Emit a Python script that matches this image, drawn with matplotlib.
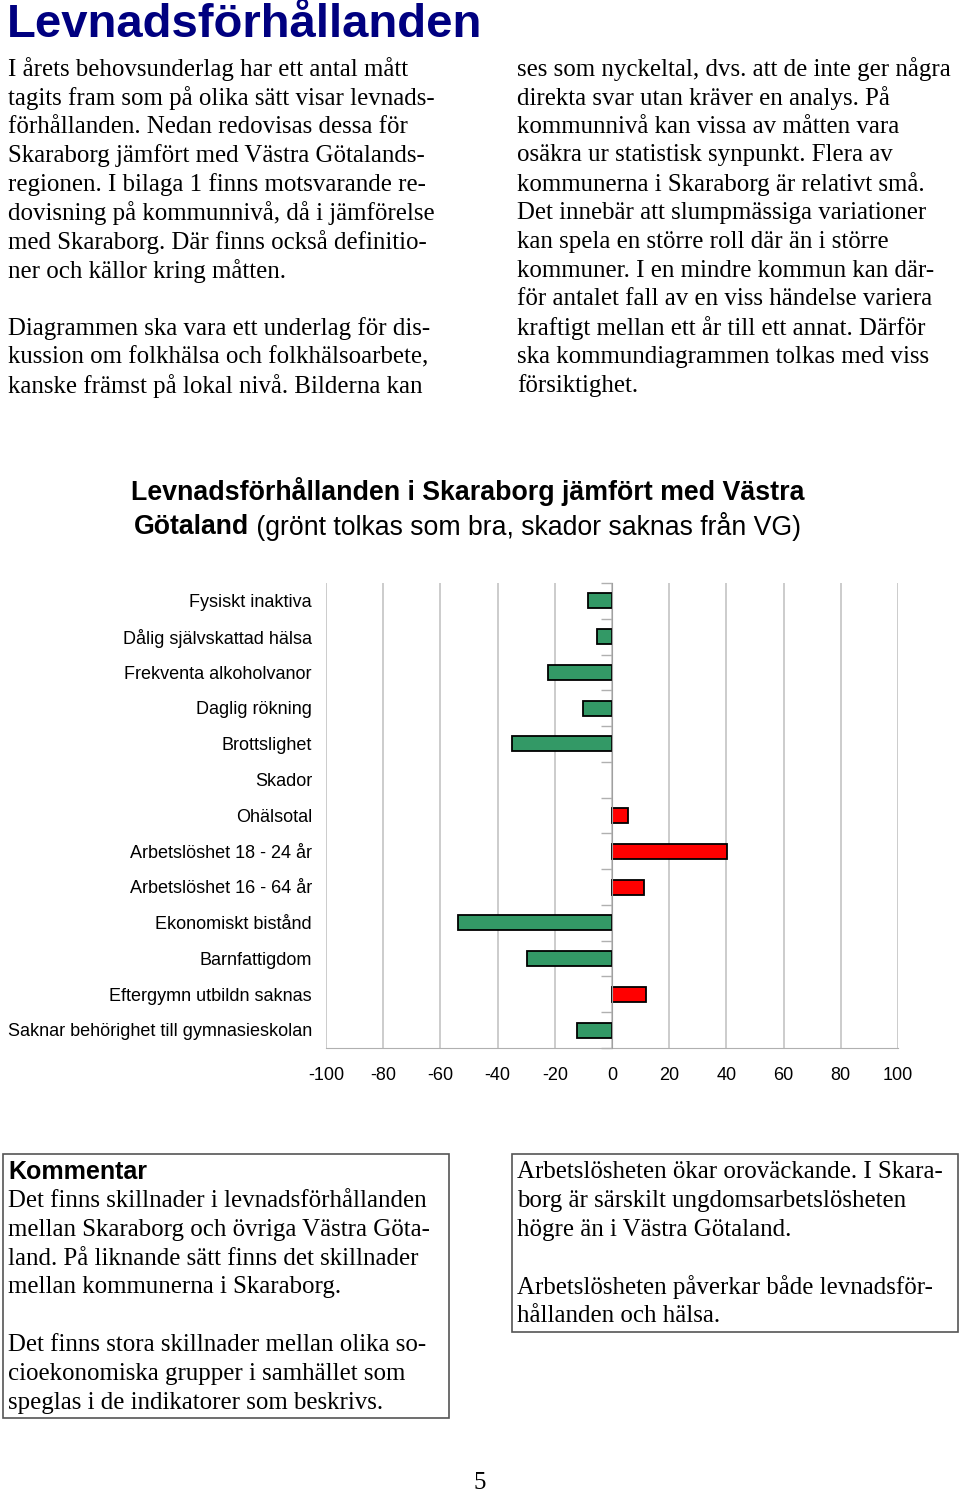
import matplotlib
matplotlib.use("Agg")
import matplotlib.pyplot as plt
import matplotlib.transforms as mtransforms
import numpy as np

# data (difference in % vs Västra Götaland)
categories = ["Fysiskt inaktiva", "Dålig självskattad hälsa", "Frekventa alkoholvanor",
              "Daglig rökning", "Brottslighet", "Skador", "Ohälsotal",
              "Arbetslöshet 18 - 24 år", "Arbetslöshet 16 - 64 år", "Ekonomiskt bistånd",
              "Barnfattigdom", "Eftergymn utbildn saknas",
              "Saknar behörighet till gymnasieskolan"]
values = [-8.4, -5.2, -22.4, -10.1, -35.0, 0.0, 5.6, 40.2, 11.2, -53.8, -29.7, 11.9, -12.2]
xticks = [-100, -80, -60, -40, -20, 0, 20, 40, 60, 80, 100]

left_text = ["I årets behovsunderlag har ett antal mått",
             "tagits fram som på olika sätt visar levnads-",
             "förhållanden. Nedan redovisas dessa för",
             "Skaraborg jämfört med Västra Götalands-",
             "regionen. I bilaga 1 finns motsvarande re-",
             "dovisning på kommunnivå, då i jämförelse",
             "med Skaraborg. Där finns också definitio-",
             "ner och källor kring måtten.",
             "",
             "Diagrammen ska vara ett underlag för dis-",
             "kussion om folkhälsa och folkhälsoarbete,",
             "kanske främst på lokal nivå. Bilderna kan"]
right_text = ["ses som nyckeltal, dvs. att de inte ger några",
              "direkta svar utan kräver en analys. På",
              "kommunnivå kan vissa av måtten vara",
              "osäkra ur statistisk synpunkt. Flera av",
              "kommunerna i Skaraborg är relativt små.",
              "Det innebär att slumpmässiga variationer",
              "kan spela en större roll där än i större",
              "kommuner. I en mindre kommun kan där-",
              "för antalet fall av en viss händelse variera",
              "kraftigt mellan ett år till ett annat. Därför",
              "ska kommundiagrammen tolkas med viss",
              "försiktighet."]
box1_text = ["Det finns skillnader i levnadsförhållanden",
             "mellan Skaraborg och övriga Västra Göta-",
             "land. På liknande sätt finns det skillnader",
             "mellan kommunerna i Skaraborg.",
             "",
             "Det finns stora skillnader mellan olika so-",
             "cioekonomiska grupper i samhället som",
             "speglas i de indikatorer som beskrivs."]
box2_text = ["Arbetslösheten ökar oroväckande. I Skara-",
             "borg är särskilt ungdomsarbetslösheten",
             "högre än i Västra Götaland.",
             "",
             "Arbetslösheten påverkar både levnadsför-",
             "hållanden och hälsa."]

W, H = 960, 1493
fig = plt.figure(figsize=(W / 100, H / 100), dpi=100)

def fx(x):
    return x / W

def fy(y):
    return 1 - y / H

serif = "Liberation Serif"
sans = "Liberation Sans"
body_size = 17.9
lh = 28.8

fig.text(fx(7), fy(37), "Levnadsförhållanden", fontsize=34, fontweight="bold",
         family=sans, color="#000080", va="baseline", ha="left")

for i, line in enumerate(left_text):
    fig.text(fx(8), fy(69 + i * lh), line, fontsize=body_size, family=serif, va="center")
for i, line in enumerate(right_text):
    fig.text(fx(517), fy(69 + i * lh), line, fontsize=body_size, family=serif, va="center")

# chart title, second line mixes bold and normal
fig.text(fx(468), fy(492), "Levnadsförhållanden i Skaraborg jämfört med Västra",
         fontsize=19.3, fontweight="bold", family=sans, ha="center", va="center")
t1 = fig.text(0, fy(527), "Götaland", fontsize=19.2, fontweight="bold", family=sans, va="center")
t2 = fig.text(0, fy(527), " (grönt tolkas som bra, skador saknas från VG)", fontsize=19.2,
              family=sans, va="center")
r = fig.canvas.get_renderer()
w1 = t1.get_window_extent(r).width
w2 = t2.get_window_extent(r).width
x0 = 467 - (w1 + w2) / 2
t1.set_x(fx(x0))
t2.set_x(fx(x0 + w1))

# chart
ax = fig.add_axes([fx(326), fy(1048), fx(898 - 326), (1048 - 583) / H])
y = np.arange(len(categories))
colors = ["#339966" if v <= 0 else "#ff0000" for v in values]
edges = ["black" if v != 0 else "none" for v in values]
ax.barh(y, values, height=0.42, color=colors, edgecolor=edges, linewidth=1.3, zorder=3)
ax.set_xlim(-100, 100)
ax.set_ylim(len(categories) - 0.5, -0.5)
ax.set_xticks(xticks)
ax.set_xticklabels([str(v) for v in xticks], fontsize=13, family=sans)
ax.tick_params(axis="x", length=0, pad=14)
ax.grid(axis="x", color="#c8c8c8", linewidth=1.3, zorder=0)
for s in ["top", "right"]:
    ax.spines[s].set_visible(False)
ax.spines["bottom"].set_color("#b0b0b0")
ax.spines["left"].set_position(("data", 0))
ax.spines["left"].set_color("#a0a0a0")
ax.spines["left"].set_zorder(4)
ax.set_yticks(y)
ax.set_yticklabels([])
ax.tick_params(axis="y", which="major", length=0)
ax.set_yticks(np.arange(len(categories) + 1) - 0.5, minor=True)
ax.tick_params(axis="y", which="minor", length=8, color="#b0b0b0", width=1)
trans = mtransforms.blended_transform_factory(ax.transAxes, ax.transData)
for yi, lab in zip(y, categories):
    ax.text(-14 / 572, yi + 0.05, lab, transform=trans, ha="right", va="center",
            fontsize=13, family=sans)

# comment boxes
fig.patches.append(plt.Rectangle((fx(3), fy(1418)), fx(446), (1418 - 1154) / H,
                                 transform=fig.transFigure, fill=False,
                                 edgecolor="#555555", linewidth=1.2))
fig.patches.append(plt.Rectangle((fx(512), fy(1332)), fx(446), (1332 - 1154) / H,
                                 transform=fig.transFigure, fill=False,
                                 edgecolor="#555555", linewidth=1.2))
fig.text(fx(8), fy(1172), "Kommentar", fontsize=18, fontweight="bold", family=sans, va="center")
for i, line in enumerate(box1_text):
    fig.text(fx(8), fy(1201 + i * lh), line, fontsize=body_size, family=serif, va="center")
for i, line in enumerate(box2_text):
    fig.text(fx(517), fy(1172 + i * lh), line, fontsize=body_size, family=serif, va="center")

fig.text(fx(480), fy(1483), "5", fontsize=body_size, family=serif, ha="center", va="center")

fig.savefig("out.png", dpi=100)
